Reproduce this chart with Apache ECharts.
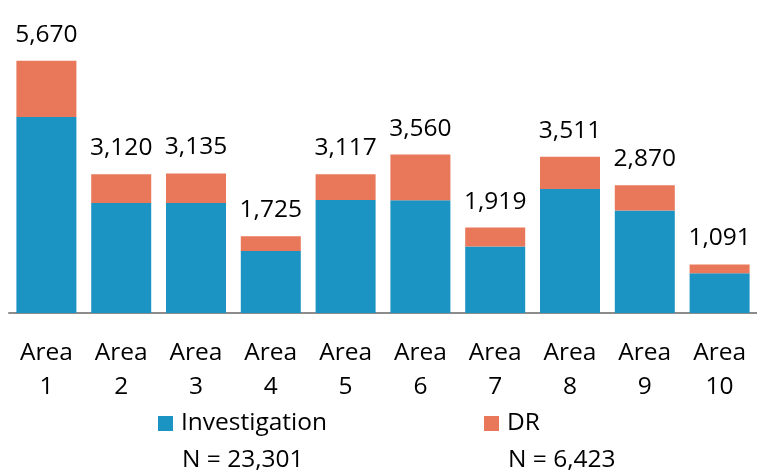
<!DOCTYPE html>
<html>
<head>
<meta charset="utf-8">
<script src="https://cdn.jsdelivr.net/npm/echarts@6/dist/echarts.min.js"></script>
<style>
html,body{margin:0;padding:0;background:#fff;}
#c{width:757px;height:472px;}
</style>
</head>
<body>
<div id="c"></div>
<script>
const categories = ["Area 1","Area 2","Area 3","Area 4","Area 5","Area 6","Area 7","Area 8","Area 9","Area 10"];
const investigation = [4404, 2474, 2474, 1395, 2541, 2534, 1494, 2788, 2303, 892];
const dr = [1266, 646, 661, 330, 576, 1026, 425, 723, 567, 199];
const totals = [5670, 3120, 3135, 1725, 3117, 3560, 1919, 3511, 2870, 1091];
const seriesNames = ["Investigation", "DR"];
const nLabels = ["N = 23,301", "N = 6,423"];

const FONT = '"Open Sans", "Noto Sans", sans-serif';
const FS = 24.5;
const BLUE = '#1b93c3';
const ORANGE = '#e9785a';

const chart = echarts.init(document.getElementById('c'), null, {renderer: 'canvas'});
chart.setOption({
  animation: false,
  textStyle: {fontFamily: FONT},
  grid: {left: 9, width: 750, top: 46, height: 267, containLabel: false},
  xAxis: {
    type: 'category',
    data: categories,
    axisLine: {show: true, lineStyle: {color: '#8c8c8c', width: 2}},
    axisTick: {show: false},
    axisLabel: {
      interval: 0,
      margin: 23,
      color: '#000',
      fontFamily: FONT,
      fontSize: FS,
      lineHeight: 34,
      formatter: v => v.replace(' ', '\n')
    }
  },
  yAxis: {
    type: 'value', min: 0, max: 6000, show: false,
    splitLine: {show: false}
  },
  legend: [
    {
      data: [seriesNames[0]], left: 158, top: 411, padding: 0,
      itemWidth: 15, itemHeight: 15, itemGap: 0,
      icon: 'rect',
      textStyle: {color: '#000', fontFamily: FONT, fontSize: FS, padding: [0,0,0,3]},
      selectedMode: false
    },
    {
      data: [seriesNames[1]], left: 484, top: 411, padding: 0,
      itemWidth: 15, itemHeight: 15, itemGap: 0,
      icon: 'rect',
      textStyle: {color: '#000', fontFamily: FONT, fontSize: FS, padding: [0,0,0,3]},
      selectedMode: false
    }
  ],
  graphic: [
    {type: 'text', left: 182, top: 448, style: {text: nLabels[0], fill: '#000', font: FS + 'px ' + FONT}},
    {type: 'text', left: 508, top: 448, style: {text: nLabels[1], fill: '#000', font: FS + 'px ' + FONT}}
  ],
  series: [
    {
      name: seriesNames[0], type: 'bar', stack: 't', data: investigation,
      barWidth: 60,
      itemStyle: {color: BLUE}
    },
    {
      name: seriesNames[1], type: 'bar', stack: 't', data: dr,
      barWidth: 60,
      itemStyle: {color: ORANGE},
      label: {
        show: true, position: 'top', distance: 11,
        color: '#000', fontFamily: FONT, fontSize: FS, lineHeight: 30,
        formatter: p => totals[p.dataIndex].toLocaleString('en-US')
      }
    }
  ]
});
</script>
</body>
</html>
